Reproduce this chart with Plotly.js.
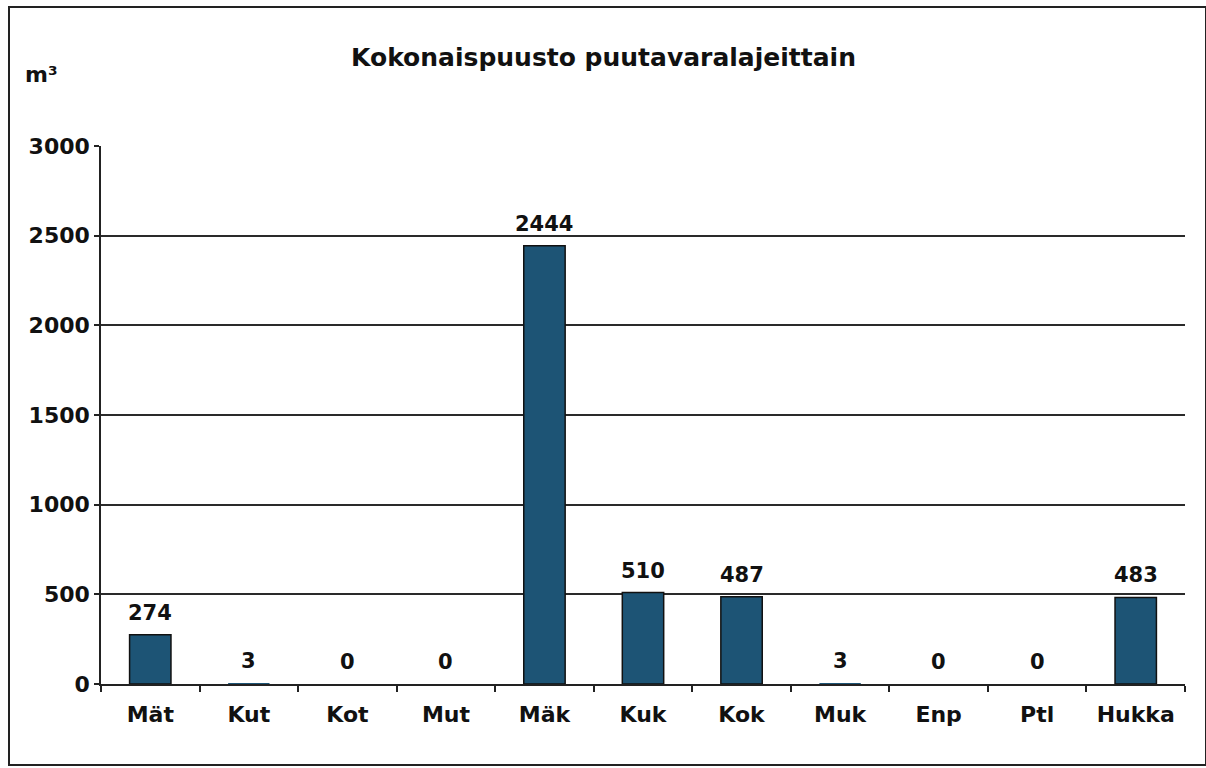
<!DOCTYPE html>
<html>
<head>
<meta charset="utf-8">
<script src="https://cdn.plot.ly/plotly-3.0.1.min.js"></script>
<style>html,body{margin:0;padding:0;background:#fff;}#chart{width:1206px;height:768px;}</style>
</head>
<body>
<div id="chart"></div>
<script>
const categories = ["Mät", "Kut", "Kot", "Mut", "Mäk", "Kuk", "Kok", "Muk", "Enp", "Ptl", "Hukka"];
const volumes = [274, 3, 0, 0, 2444, 510, 487, 3, 0, 0, 483];
const yTicks = [0, 500, 1000, 1500, 2000, 2500, 3000];

const FONT = "DejaVu Sans, Verdana, sans-serif";

const trace = {
  type: "bar",
  x: categories,
  y: volumes,
  cliponaxis: false,
  marker: {color: "#1d5475", line: {color: "#111", width: volumes.map(v => v > 10 ? 1.5 : 0)}},
  width: 0.42,
  hoverinfo: "x+y"
};

const valueLabels = categories.map((c, i) => ({
  x: c, y: volumes[i], xref: "x", yref: "y",
  text: "<b>" + volumes[i] + "</b>",
  showarrow: false, xanchor: "center", yanchor: "bottom", yshift: 8,
  font: {family: FONT, size: 21, color: "#111"}
}));

const layout = {
  width: 1206,
  height: 768,
  margin: {l: 101, r: 21, t: 146, b: 84},
  paper_bgcolor: "#fff",
  plot_bgcolor: "#fff",
  showlegend: false,
  font: {family: FONT, color: "#111", weight: "bold"},
  title: {
    text: "<b>Kokonaispuusto puutavaralajeittain</b>",
    font: {family: FONT, size: 25, color: "#111"},
    x: (345 + 862) / 2 / 1206, xref: "container", xanchor: "center",
    y: 1 - 57/768, yanchor: "middle"
  },
  xaxis: {
    type: "category",
    showgrid: false,
    showline: true, linecolor: "#222", linewidth: 1.5,
    ticks: "outside", tickson: "boundaries", ticklen: 6, tickcolor: "#222", tickwidth: 1.5,
    tickfont: {family: FONT, size: 22, color: "#111", weight: "bold"},
    ticklabelstandoff: 10,
    fixedrange: true
  },
  yaxis: {
    range: [0, 3000],
    tickvals: yTicks,
    ticktext: yTicks.map(String),
    showgrid: true, gridcolor: "#2a2a2a", gridwidth: 1.5,
    showline: true, linecolor: "#222", linewidth: 1.5,
    ticks: "outside", ticklen: 5, tickcolor: "#222", tickwidth: 1.5,
    tickfont: {family: FONT, size: 22, color: "#111", weight: "bold"},
    ticklabelstandoff: 0,
    zeroline: false,
    fixedrange: true
  },
  annotations: [{
    text: "<b>m³</b>",
    xref: "paper", yref: "paper",
    x: (23 - 101) / 1084, y: (684 - 75) / 538,
    xanchor: "left", yanchor: "middle",
    showarrow: false,
    font: {family: FONT, size: 22, color: "#111"}
  }].concat(valueLabels),
  shapes: [{
    type: "rect", xref: "paper", yref: "paper",
    x0: (9 - 101) / 1084, x1: (1206 - 101) / 1084,
    y0: (684 - 765) / 538, y1: (684 - 7) / 538,
    line: {color: "#222", width: 2}, fillcolor: "rgba(0,0,0,0)", layer: "below"
  }]
};

Plotly.newPlot("chart", [trace], layout, {displayModeBar: false});
</script>
</body>
</html>
